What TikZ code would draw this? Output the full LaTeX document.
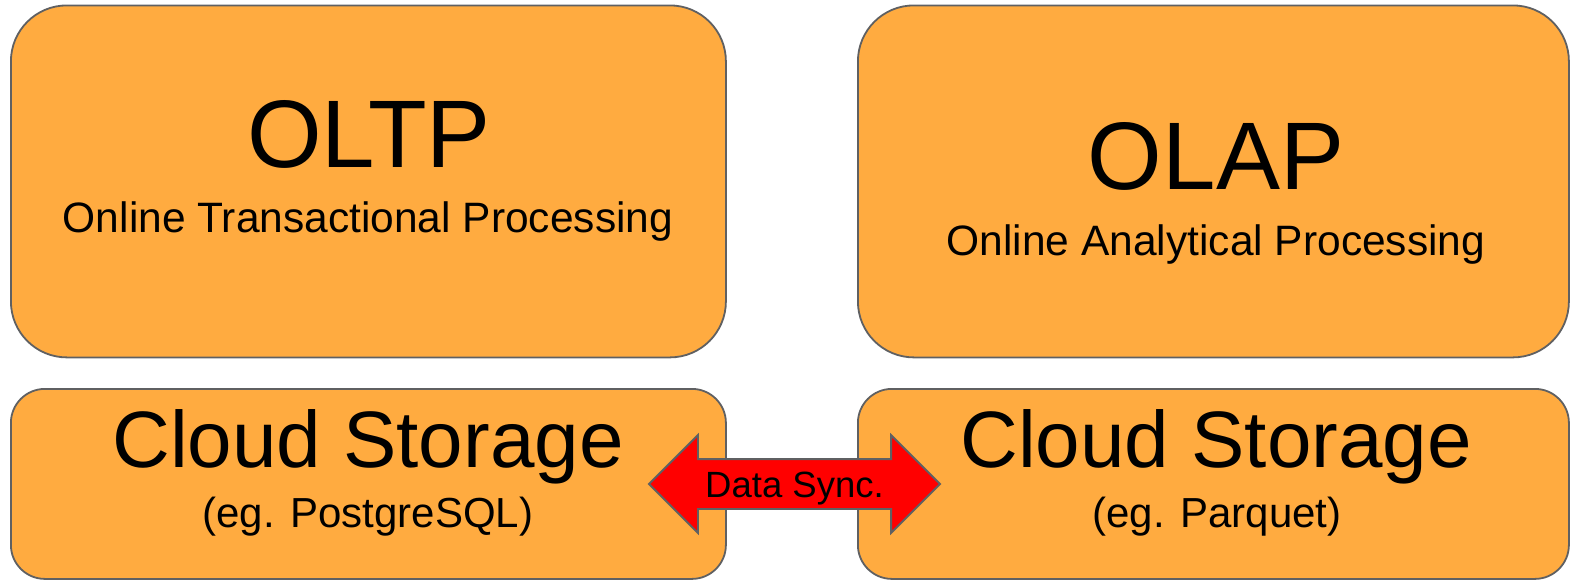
\documentclass[tikz,border=0pt]{standalone}
\usepackage{fontspec}
\setmainfont{Liberation Sans}
\usetikzlibrary{shapes.arrows}
\definecolor{boxfill}{HTML}{FFAB40}
\definecolor{edge}{HTML}{5F6062}
\definecolor{syncred}{HTML}{FF0000}
\begin{document}
\begin{tikzpicture}[x=1pt,y=-1pt,
  panel/.style={draw=edge, line width=1.8pt, fill=boxfill, inner sep=0pt, anchor=north west},
  bigpanel/.style={panel, minimum width=715pt, minimum height=352pt, rounded corners=56pt},
  smallpanel/.style={panel, minimum width=715pt, minimum height=190pt, rounded corners=34pt},
  label/.style={anchor=base, inner sep=0pt, text=black},
  huge/.style={label, font=\fontsize{96}{100}\selectfont},
  large/.style={label, font=\fontsize{80}{84}\selectfont},
  sub/.style={label, font=\fontsize{42.5}{46}\selectfont},
  note/.style={label, font=\fontsize{42}{46}\selectfont},
  syncarrow/.style={double arrow, draw=edge, line width=1.8pt, fill=syncred,
    double arrow head extend=24pt, double arrow tip angle=90,
    minimum height=291pt, inner xsep=0pt, inner ysep=0pt,
    text height=37pt, text depth=11pt, font=\fontsize{36.5}{40}\selectfont}]
\useasboundingbox (0,0) rectangle (1571,579);

% upper panels
\node[bigpanel] (oltp) at (10,4.5) {};
\node[bigpanel, minimum width=711pt] (olap) at (857,4.5) {};
% lower storage panels
\node[smallpanel] (pgstore) at (10,388) {};
\node[smallpanel, minimum width=711pt] (pqstore) at (857,388) {};

% upper panel texts
\node[huge] (oltpname) at (369,167) {OLTP};
\node[sub] (oltpdesc) at (368,232) {Online Transactional Processing};
\node[huge] (olapname) at (1216,189) {OLAP};
\node[sub] (olapdesc) at (1216,255) {Online Analytical Processing};

% lower panel texts
\node[large] (pgtitle) at (368,467) {Cloud Storage};
\node[note] (pgnote) at (368,527) {(eg. PostgreSQL)};
\node[large] (pqtitle) at (1216,467) {Cloud Storage};
\node[note] (pqnote) at (1217,527) {(eg. Parquet)};

% synchronisation arrow between the two stores
\node[syncarrow] (sync) at (794.5,484) {Data Sync.};
\end{tikzpicture}
\end{document}
